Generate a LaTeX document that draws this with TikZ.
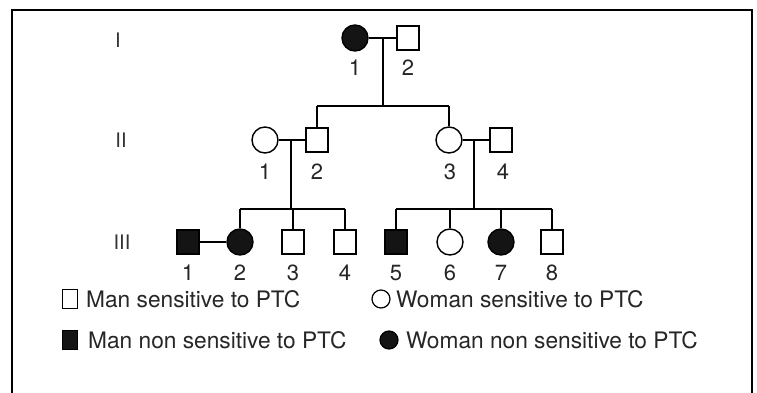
\documentclass[tikz,border=0pt]{standalone}
\usepackage{fontspec}
\setmainfont{TeX Gyre Heros}
\usetikzlibrary{shapes.geometric}
\begin{document}
\begin{tikzpicture}[x=1pt,y=-1pt,
  conn/.style={line width=1.5pt},
  man/.style={draw,rectangle,line width=1.4pt,minimum width=22pt,minimum height=24pt,inner sep=0pt},
  woman/.style={draw,circle,line width=1.4pt,minimum size=26pt,inner sep=0pt},
  aff/.style={fill=black!92},
  num/.style={font=\fontsize{22}{22}\selectfont,text=black!85,inner sep=0pt},
  gen/.style={font=\fontsize{20}{20}\selectfont,text=black!80,inner sep=0pt},
  leg/.style={font=\fontsize{22.7}{22.7}\selectfont,text=black!85,anchor=west,inner sep=0pt},
  lman/.style={draw,rectangle,line width=1.2pt,minimum width=15pt,minimum height=19pt,inner sep=0pt},
  lwoman/.style={draw,circle,line width=1.2pt,minimum size=18pt,inner sep=0pt}]
\useasboundingbox (0,0) rectangle (757,393);
\fill[white] (0,0) rectangle (757,393);
\draw[line width=1.6pt] (12,393) -- (12,10) -- (752,10) -- (752,393);
% generation labels
\node[gen] (gI) at (118,40) {I};
\node[gen] (gII) at (121,140) {II};
\node[gen] (gIII) at (122,242) {III};
% generation I
\node[woman,aff] (I1) at (355,38) {};
\node[man] (I2) at (408,38) {};
\node[num] (lI1) at (355,68) {1};
\node[num] (lI2) at (408,68) {2};
\draw[conn] (I1.east) -- (I2.west);
\coordinate (m1) at (383,38);
\coordinate (s1) at (383,106);
\coordinate (s1l) at (317,106);
\coordinate (s1r) at (449,106);
% generation II
\node[woman] (II1) at (265,140) {};
\node[man] (II2) at (317,140) {};
\node[woman] (II3) at (449,140) {};
\node[man] (II4) at (501,140) {};
\node[num] (lII1) at (265,172) {1};
\node[num] (lII2) at (317,172) {2};
\node[num] (lII3) at (450,172) {3};
\node[num] (lII4) at (503,172) {4};
\draw[conn] (m1) -- (s1);
\draw[conn] (s1l) -- (s1r);
\draw[conn] (s1l) -- (II2.north);
\draw[conn] (s1r) -- (II3.north);
\draw[conn] (II1.east) -- (II2.west);
\draw[conn] (II3.east) -- (II4.west);
\coordinate (m2) at (291,140);
\coordinate (s2) at (291,209);
\coordinate (m3) at (474,140);
\coordinate (s3) at (474,209);
% generation III
\node[man,aff] (III1) at (188,242) {};
\node[woman,aff] (III2) at (240,242) {};
\node[man] (III3) at (293,242) {};
\node[man] (III4) at (345,242) {};
\node[man,aff] (III5) at (396,242) {};
\node[woman] (III6) at (450,242) {};
\node[woman,aff] (III7) at (501,242) {};
\node[man] (III8) at (552,242) {};
\foreach \n/\x in {1/188,2/240,3/293,4/345,5/396,6/450,7/501,8/552}
  \node[num] (lIII\n) at (\x,273) {\n};
\draw[conn] (m2) -- (s2);
\draw[conn] (m3) -- (s3);
\draw[conn] (III2.north |- s2) -- (III4.north |- s2);
\draw[conn] (III5.north |- s3) -- (III8.north |- s3);
\foreach \k in {2,3,4} \draw[conn] (III\k.north |- s2) -- (III\k.north);
\foreach \k in {5,6,7,8} \draw[conn] (III\k.north |- s3) -- (III\k.north);
\draw[conn] (III1.east) -- (III2.west);
% legend
\node[lman] (k1) at (70,299) {};
\node[leg] (t1) at (86,299) {Man sensitive to PTC};
\node[lwoman] (k2) at (381,299) {};
\node[leg] (t2) at (396,299) {Woman sensitive to PTC};
\node[lman,aff] (k3) at (70,340) {};
\node[leg] (t3) at (88,340) {Man non sensitive to PTC};
\node[lwoman,aff] (k4) at (389,340) {};
\node[leg] (t4) at (406,340) {Woman non sensitive to PTC};
\end{tikzpicture}
\end{document}
